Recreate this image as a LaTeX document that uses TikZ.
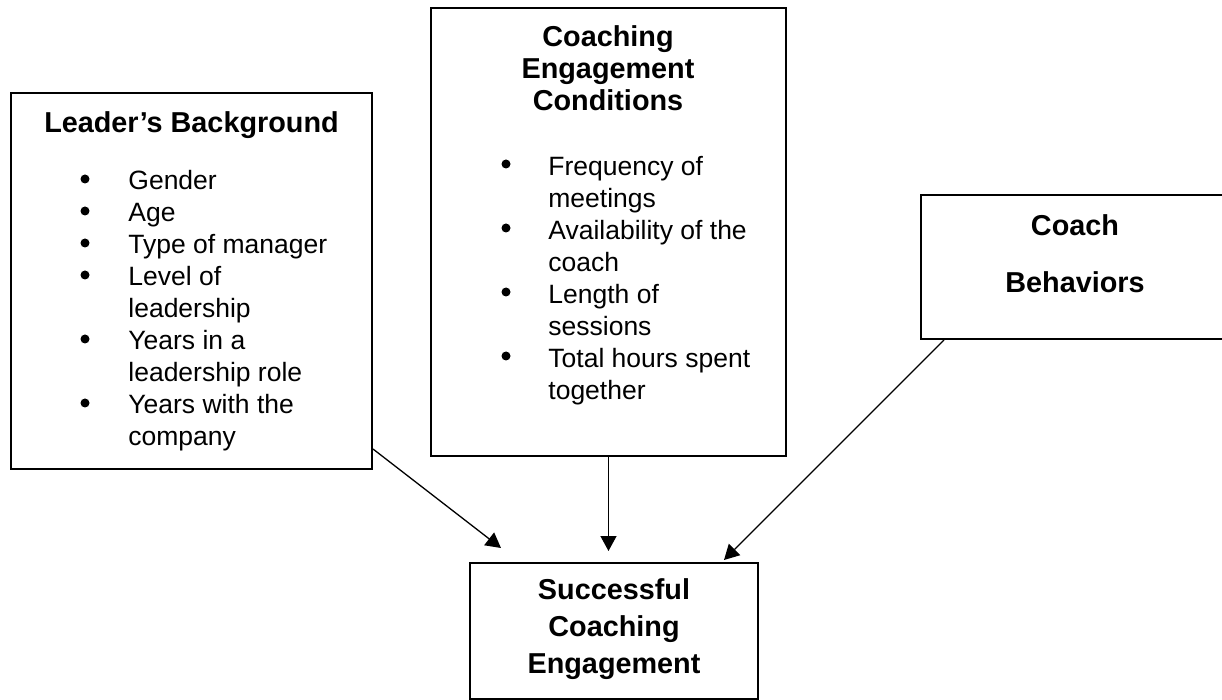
\documentclass[tikz,border=0pt]{standalone}
\usepackage{fontspec}
\setmainfont{Liberation Sans}
\usetikzlibrary{arrows.meta}

\begin{document}
\begin{tikzpicture}[x=0.5pt,y=-0.5pt,
  box/.style={draw,line width=1pt,inner sep=0pt},
  head/.style={anchor=north,inner sep=0pt,align=center,
    font=\bfseries\fontsize{14.4pt}{16pt}\selectfont},
  list/.style={anchor=north west,inner sep=0pt,align=left,
    font=\fontsize{13.25pt}{16pt}\selectfont},
  link/.style={line width=0.65pt,-{Triangle[length=7.5pt,width=8pt]}}]
  \clip (0,0) rectangle (1222,700);

  % boxes
  \node[box,minimum width=180.5pt,minimum height=188pt] (lead) at (191.5,281) {};
  \node[box,minimum width=177.5pt,minimum height=224pt] (cond) at (608.5,232) {};
  \node[box,minimum width=154pt,minimum height=72pt] (coach) at (1075,267) {};
  \node[box,minimum width=144pt,minimum height=68pt] (succ) at (614,631) {};

  % headings
  \node[head] (leadhead) at (191.5,111) {Leader’s Background};
  \node[head] (condhead) at (608,25) {Coaching\\Engagement\\Conditions};
  \node[head,font=\bfseries\fontsize{14.4pt}{28.5pt}\selectfont] (coachhead) at (1075,214) {Coach\\Behaviors};
  \node[head,font=\bfseries\fontsize{14.4pt}{18.5pt}\selectfont] (succhead) at (614,578) {Successful\\Coaching\\Engagement};

  % bullet lists
  \node[list] (leadlist) at (128,170) {Gender\\Age\\Type of manager\\Level of\\leadership\\
    Years in a\\leadership role\\Years with the\\company};
  \node[list] (condlist) at (548,156) {Frequency of\\meetings\\Availability of the\\coach\\
    Length of\\sessions\\Total hours spent\\together};
  \foreach \k in {0,1,2,3,5,7}
    \fill ([shift={(-43,9+32*\k)}]leadlist.north west) circle (2.25pt);
  \foreach \k in {0,2,4,6}
    \fill ([shift={(-42,8+32*\k)}]condlist.north west) circle (2.25pt);

  % arrows into the outcome box
  \draw[link] ([yshift=10.5pt]lead.south east) -- ([xshift=16pt,yshift=7pt]succ.north west);
  \draw[link] (cond.south) -- ([yshift=5.5pt]cond.south |- succ.north);
  \draw[link] ([xshift=12pt]coach.south west) -- ([xshift=-17.5pt,yshift=1pt]succ.north east);
\end{tikzpicture}
\end{document}
